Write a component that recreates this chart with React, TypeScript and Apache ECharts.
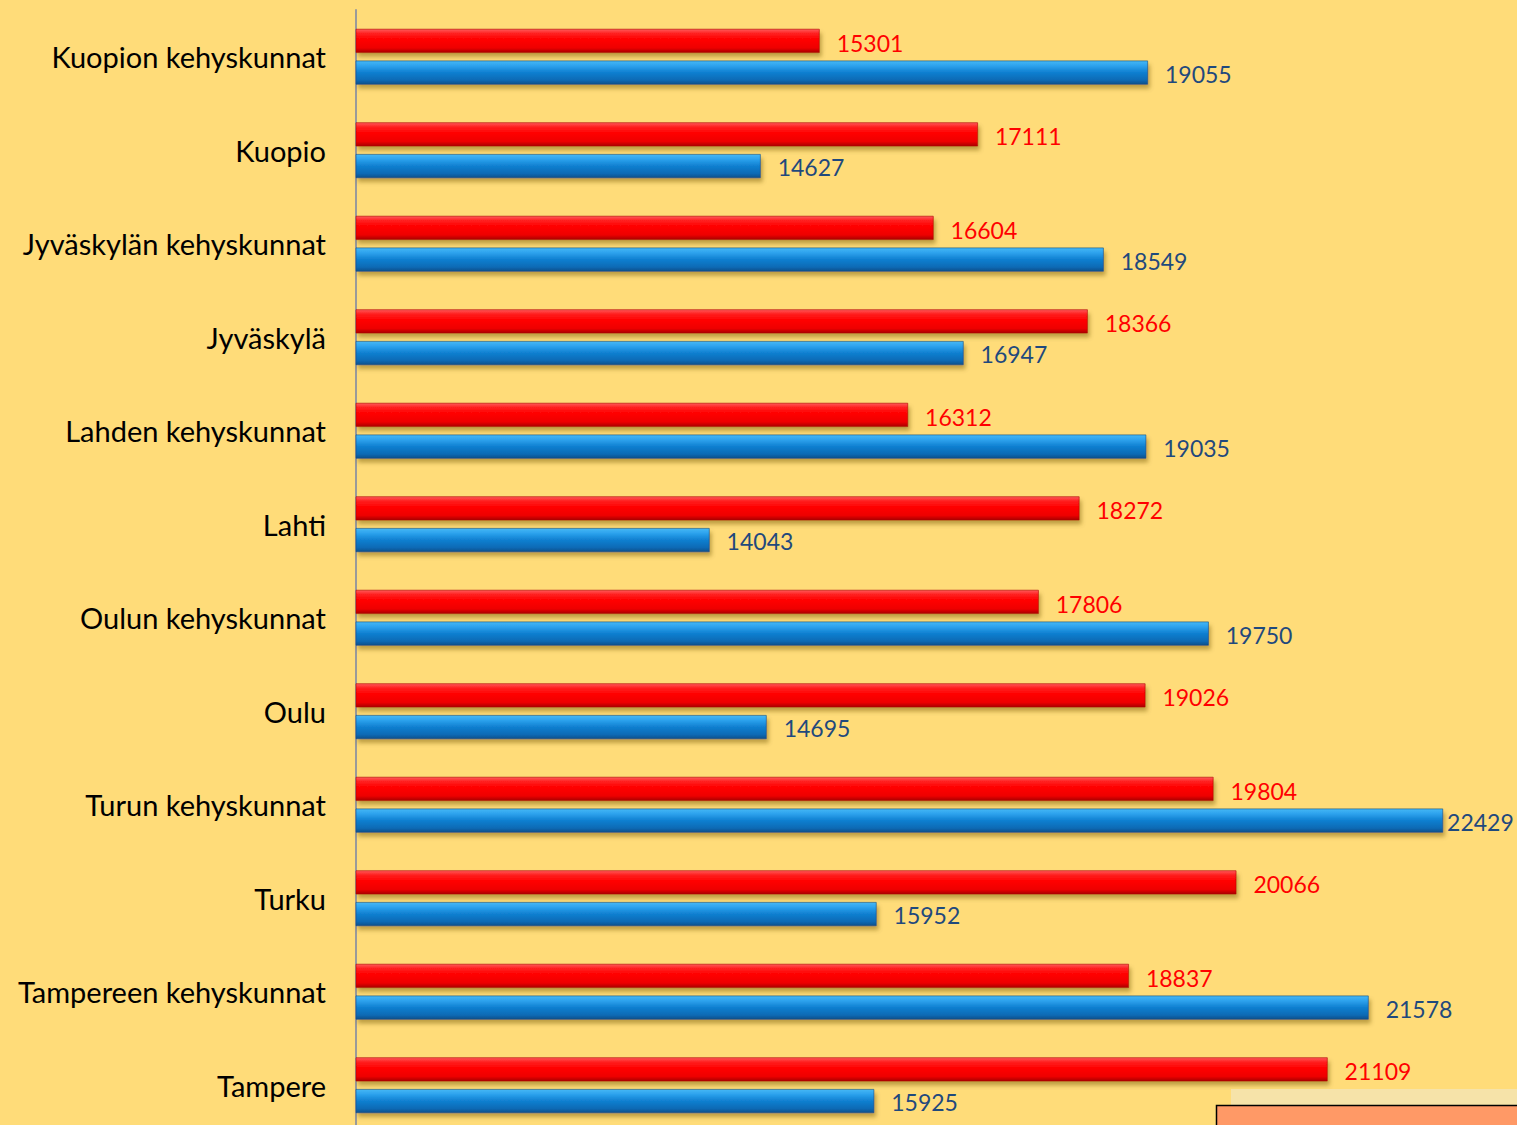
import React, { useEffect, useRef } from "react";
import * as echarts from "echarts";

const categories = [
  "Kuopion kehyskunnat",
  "Kuopio",
  "Jyväskylän kehyskunnat",
  "Jyväskylä",
  "Lahden kehyskunnat",
  "Lahti",
  "Oulun kehyskunnat",
  "Oulu",
  "Turun kehyskunnat",
  "Turku",
  "Tampereen kehyskunnat",
  "Tampere",
];
const redValues = [15301, 17111, 16604, 18366, 16312, 18272, 17806, 19026, 19804, 20066, 18837, 21109];
const blueValues = [19055, 14627, 18549, 16947, 19035, 14043, 19750, 14695, 22429, 15952, 21578, 15925];

const FONT = "Lato, 'Open Sans', sans-serif";

export default function App() {
  const ref = useRef<HTMLDivElement>(null);
  useEffect(() => {
    document.body.style.margin = "0";
    document.body.style.overflow = "hidden";
    const chart = echarts.init(ref.current!, null, { renderer: "svg" });
    const redGrad = new echarts.graphic.LinearGradient(0, 0, 0, 1, [
      { offset: 0, color: "#ff5a5a" },
      { offset: 0.18, color: "#ff2020" },
      { offset: 0.45, color: "#ff0000" },
      { offset: 0.8, color: "#ee0000" },
      { offset: 1, color: "#a80000" },
    ]);
    const blueGrad = new echarts.graphic.LinearGradient(0, 0, 0, 1, [
      { offset: 0, color: "#45b8f5" },
      { offset: 0.2, color: "#2ea3ee" },
      { offset: 0.5, color: "#0f7fd0" },
      { offset: 0.82, color: "#0a6ab5" },
      { offset: 1, color: "#074f8a" },
    ]);
    const shadow = {
      shadowColor: "rgba(110, 85, 0, 0.45)",
      shadowBlur: 4,
      shadowOffsetX: 2,
      shadowOffsetY: 4,
    };
    const maxBlue = Math.max(...blueValues);
    const blueData = blueValues.map((v) =>
      v === maxBlue ? { value: v, label: { distance: 4 } } : v
    );
    chart.setOption({
      animation: false,
      backgroundColor: "#FFDC79",
      grid: { left: 356, right: 24, top: 10, bottom: 8, containLabel: false },
      xAxis: {
        type: "value",
        min: 10000,
        max: 23000,
        show: false,
        splitLine: { show: false },
      },
      yAxis: {
        type: "category",
        data: categories,
        inverse: true,
        axisLine: { show: true, lineStyle: { color: "#9a9a9a", width: 2 } },
        axisTick: { show: false },
        axisLabel: {
          color: "#000000",
          fontSize: 29,
          fontFamily: FONT,
          margin: 30,
        },
      },
      series: [
        {
          name: "Punainen",
          type: "bar",
          data: redValues,
          barWidth: 24,
          barGap: "32%",
          itemStyle: { color: redGrad, borderColor: "#b00000", borderWidth: 0.6, ...shadow },
          label: {
            show: true,
            position: "right",
            distance: 17,
            color: "#ff0000",
            fontSize: 23,
            fontFamily: FONT,
            offset: [0, 2],
          },
        },
        {
          name: "Sininen",
          type: "bar",
          data: blueData,
          barWidth: 24,
          itemStyle: { color: blueGrad, borderColor: "#0a4f88", borderWidth: 0.6, ...shadow },
          label: {
            show: true,
            position: "right",
            distance: 17,
            color: "#1f497d",
            fontSize: 23,
            fontFamily: FONT,
            offset: [0, 1],
          },
        },
      ],
      graphic: [
        {
          type: "rect",
          shape: { x: 1231, y: 1089, width: 290, height: 60 },
          style: { fill: "#F6E3A9" },
          z: 10,
        },
        {
          type: "rect",
          shape: { x: 1216.5, y: 1105.5, width: 310, height: 60 },
          style: { fill: "#FF9966", stroke: "#000000", lineWidth: 1.5 },
          z: 11,
        },
      ],
    });
    return () => chart.dispose();
  }, []);
  return <div ref={ref} style={{ width: 1517, height: 1140 }} />;
}
